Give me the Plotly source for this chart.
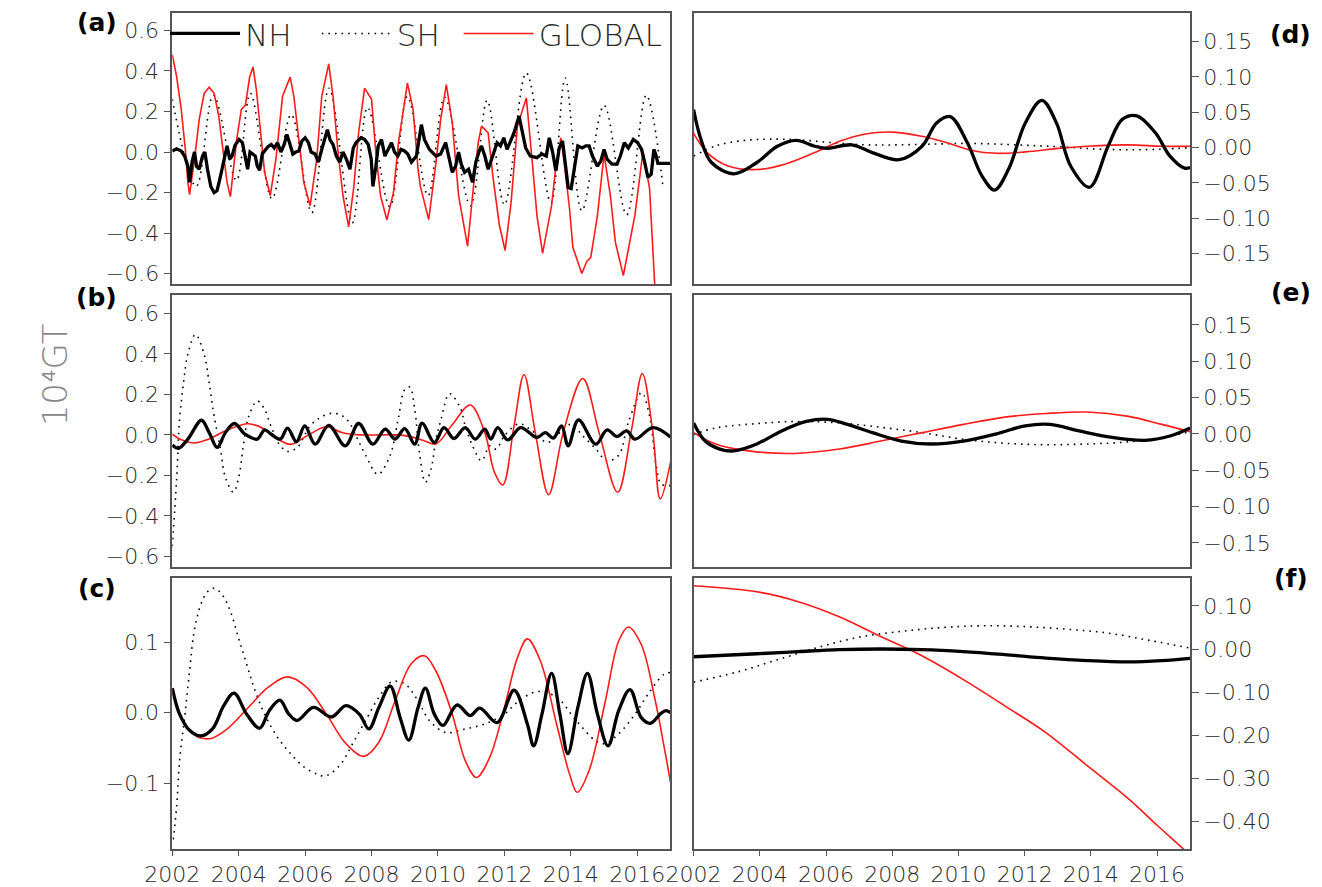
import plotly.graph_objects as go

W, H = 1322, 887

# ---------------- data (years, values in 10^4 GT) ----------------
# Panel (a)
A_NH_T = [2002.0, 2002.13, 2002.27, 2002.37, 2002.47, 2002.52, 2002.6, 2002.67, 2002.73, 2002.81, 2002.91, 2002.98,
          2003.06, 2003.16, 2003.26, 2003.35, 2003.45, 2003.55, 2003.65, 2003.73, 2003.8, 2003.89, 2004.01, 2004.11,
          2004.19, 2004.27, 2004.34, 2004.43, 2004.5, 2004.56, 2004.63, 2004.71, 2004.8, 2004.88, 2004.98, 2005.07,
          2005.17, 2005.27, 2005.37, 2005.45, 2005.53, 2005.63, 2005.72, 2005.81, 2005.9, 2006.0, 2006.1, 2006.18,
          2006.3, 2006.4, 2006.5, 2006.6, 2006.67, 2006.75, 2006.84, 2006.94, 2007.04, 2007.14, 2007.24, 2007.35,
          2007.45, 2007.53, 2007.68, 2007.79, 2007.9, 2007.99, 2008.04, 2008.13, 2008.2, 2008.3, 2008.4, 2008.5,
          2008.6, 2008.69, 2008.79, 2008.89, 2008.99, 2009.09, 2009.2, 2009.35, 2009.5, 2009.59, 2009.74, 2009.94,
          2010.08, 2010.23, 2010.33, 2010.43, 2010.53, 2010.62, 2010.7, 2010.8, 2010.92, 2011.04, 2011.14, 2011.23,
          2011.31, 2011.41, 2011.51, 2011.59, 2011.69, 2011.78, 2011.88, 2011.98, 2012.08, 2012.18, 2012.29, 2012.44,
          2012.54, 2012.64, 2012.78, 2012.98, 2013.13, 2013.26, 2013.35, 2013.45, 2013.55, 2013.65, 2013.75, 2013.85,
          2013.92, 2014.01, 2014.11, 2014.21, 2014.34, 2014.45, 2014.55, 2014.65, 2014.8, 2014.9, 2015.0, 2015.09,
          2015.24, 2015.39, 2015.49, 2015.61, 2015.73, 2015.88, 2016.01, 2016.13, 2016.22, 2016.32, 2016.42, 2016.5,
          2016.57, 2016.62, 2017.0]
A_NH_V = [0.005, 0.016, 0.005, -0.02, -0.07, -0.15, -0.045, 0.0, -0.07, -0.085, -0.02, 0.0,
          -0.085, -0.17, -0.20, -0.19, -0.12, -0.035, 0.03, -0.035, -0.02, 0.033, 0.062, 0.046,
          -0.02, -0.085, 0.0, -0.01, -0.02, -0.07, -0.09, -0.01, 0.013, 0.026, 0.037, 0.02,
          0.046, 0.0, 0.037, 0.087, 0.046, -0.01, 0.0, 0.005, 0.054, 0.07, 0.046, 0.0,
          -0.01, -0.05, 0.013, 0.08, 0.11, 0.06, 0.037, -0.02, -0.05, 0.0, -0.035, -0.085,
          0.02, 0.046, 0.07, 0.062, 0.037, -0.035, -0.17, -0.07, 0.03, 0.062, -0.02, 0.013,
          0.046, 0.0, -0.02, 0.013, 0.005, -0.01, -0.05, -0.02, 0.135, 0.062, 0.013, -0.02,
          -0.01, 0.046, -0.028, -0.10, -0.07, 0.0, -0.06, -0.10, -0.085, -0.15, -0.05, 0.0,
          0.03, -0.02, -0.085, -0.045, 0.0, 0.046, 0.03, 0.07, 0.013, 0.054, 0.095, 0.177,
          0.095, 0.02, -0.02, -0.028, -0.01, -0.02, 0.07, 0.0, -0.093, 0.02, 0.054, -0.07,
          -0.175, -0.18, -0.07, 0.03, 0.02, 0.03, 0.03, -0.02, -0.07, -0.045, 0.013, -0.035,
          -0.06, -0.06, -0.02, 0.046, 0.02, 0.062, 0.046, 0.013, -0.05, -0.125, -0.11, 0.013,
          -0.02, -0.056, -0.056]

A_SH_T = [2002.0, 2002.72, 2003.24, 2003.93, 2004.35, 2005.0, 2005.58, 2006.2, 2006.72, 2007.42, 2007.88,
          2008.55, 2009.08, 2009.7, 2010.2, 2010.98, 2011.48, 2012.0, 2012.66, 2013.4, 2013.83, 2014.33,
          2015.0, 2015.68, 2016.27, 2016.78]
A_SH_V = [0.26, -0.17, 0.28, -0.14, 0.29, -0.23, 0.185, -0.30, 0.315, -0.35, 0.22,
          -0.27, 0.275, -0.215, 0.27, -0.265, 0.255, -0.26, 0.39, -0.25, 0.365, -0.29,
          0.23, -0.31, 0.28, -0.18]

A_GL_T = [2002.0, 2002.13, 2002.27, 2002.4, 2002.47, 2002.52, 2002.67, 2002.81, 2002.96, 2003.11, 2003.26,
          2003.4, 2003.55, 2003.65, 2003.75, 2003.85, 2003.94, 2004.08, 2004.2, 2004.33, 2004.43, 2004.53,
          2004.68, 2004.78, 2004.95, 2005.12, 2005.32, 2005.55, 2005.66, 2005.81, 2005.96, 2006.15, 2006.35,
          2006.5, 2006.71, 2006.84, 2006.99, 2007.14, 2007.31, 2007.46, 2007.61, 2007.79, 2008.0, 2008.12,
          2008.27, 2008.46, 2008.66, 2008.81, 2009.08, 2009.25, 2009.4, 2009.47, 2009.72, 2009.94, 2010.08,
          2010.25, 2010.43, 2010.62, 2010.89, 2011.07, 2011.21, 2011.31, 2011.51, 2011.65, 2011.85, 2012.02,
          2012.2, 2012.39, 2012.66, 2012.83, 2012.98, 2013.15, 2013.42, 2013.55, 2013.7, 2013.8, 2013.96,
          2014.06, 2014.33, 2014.48, 2014.6, 2014.8, 2015.0, 2015.19, 2015.34, 2015.58, 2015.78, 2015.93,
          2016.17, 2016.37, 2016.52, 2016.6]
A_GL_V = [0.48, 0.373, 0.21, 0.0, -0.15, -0.21, -0.035, 0.16, 0.29, 0.32, 0.29,
          0.177, -0.02, -0.15, -0.22, -0.085, 0.062, 0.21, 0.23, 0.37, 0.42, 0.31,
          0.046, -0.10, -0.215, -0.035, 0.275, 0.37, 0.275, 0.046, -0.15, -0.265, -0.035,
          0.275, 0.435, 0.275, 0.0, -0.216, -0.37, -0.18, 0.095, 0.315, 0.26, 0.013,
          -0.216, -0.335, -0.20, 0.046, 0.34, 0.21, -0.085, -0.17, -0.334, -0.053, 0.16,
          0.333, 0.144, -0.216, -0.465, -0.167, 0.046, 0.128, 0.095, -0.118, -0.363, -0.486,
          -0.25, 0.128, 0.267, -0.035, -0.314, -0.50, -0.265, -0.07, 0.07, -0.05, -0.28,
          -0.47, -0.60, -0.54, -0.52, -0.314, -0.01, -0.216, -0.445, -0.61, -0.445, -0.31,
          0.0, -0.18, -0.64, -0.80]

# Panel (b)
B_NH_T = [2002.0, 2002.18, 2002.47, 2002.88, 2003.11, 2003.35, 2003.6, 2003.87, 2004.19, 2004.56, 2004.78,
          2004.98, 2005.25, 2005.47, 2005.74, 2005.99, 2006.3, 2006.71, 2007.21, 2007.61, 2008.04, 2008.41,
          2008.71, 2009.0, 2009.3, 2009.52, 2009.89, 2010.18, 2010.48, 2010.82, 2011.12, 2011.41, 2011.59,
          2011.8, 2012.1, 2012.49, 2012.98, 2013.23, 2013.47, 2013.72, 2013.92, 2014.23, 2014.75, 2015.09,
          2015.39, 2015.68, 2015.93, 2016.47, 2017.0]
B_NH_V = [-0.05, -0.067, -0.021, 0.072, 0.011, -0.062, 0.011, 0.056, 0.003, -0.021, 0.025,
          0.003, -0.021, 0.033, -0.034, 0.044, -0.046, 0.047, -0.054, 0.056, -0.046, 0.028,
          -0.021, 0.031, -0.046, 0.058, -0.038, 0.036, -0.018, 0.036, -0.021, 0.028, -0.021,
          0.036, -0.025, 0.036, -0.013, 0.011, -0.016, 0.044, -0.054, 0.074, -0.046, 0.025,
          -0.008, 0.02, -0.021, 0.036, -0.01]

B_SH_T = [2002.0, 2002.13, 2002.22, 2002.34, 2002.47, 2002.7, 2002.96, 2003.11, 2003.26, 2003.45, 2003.6,
          2003.84, 2003.99, 2004.14, 2004.29, 2004.56, 2004.78, 2004.97, 2005.22, 2005.47, 2005.76, 2006.15,
          2006.45, 2006.79, 2007.09, 2007.33, 2007.58, 2007.82, 2008.19, 2008.56, 2008.8, 2009.0, 2009.15,
          2009.3, 2009.44, 2009.62, 2009.79, 2009.94, 2010.08, 2010.35, 2010.67, 2010.82, 2011.02, 2011.31,
          2011.56, 2011.75, 2012.0, 2012.44, 2012.83, 2013.28, 2013.47, 2013.77, 2014.01, 2014.36, 2014.75,
          2015.09, 2015.44, 2015.73, 2016.13, 2016.37, 2016.57, 2016.72, 2017.0]
B_SH_V = [-0.55, -0.22, 0.077, 0.257, 0.40, 0.495, 0.396, 0.257, 0.093, -0.07, -0.21,
          -0.283, -0.218, -0.054, 0.085, 0.167, 0.126, 0.044, -0.046, -0.082, -0.062, 0.044,
          0.085, 0.106, 0.097, 0.06, -0.021, -0.10, -0.195, -0.10, 0.077, 0.224, 0.236,
          0.126, -0.087, -0.234, -0.169, -0.021, 0.069, 0.203, 0.134, 0.044, -0.046, -0.128,
          -0.054, -0.07, -0.005, 0.055, 0.02, -0.038, -0.021, 0.028, 0.052, -0.005, -0.07,
          -0.128, -0.10, 0.061, 0.208, 0.093, -0.152, -0.242, -0.25]

B_GL_T = [2002.0, 2002.22, 2002.67, 2003.11, 2003.6, 2004.29, 2004.78, 2005.17, 2005.56, 2006.05, 2006.64,
          2007.13, 2007.63, 2008.31, 2008.8, 2009.2, 2009.6, 2009.94, 2010.43, 2010.97, 2011.41, 2011.7,
          2011.95, 2012.29, 2012.59, 2012.93, 2013.33, 2013.77, 2014.36, 2014.85, 2015.41, 2015.83, 2016.15,
          2016.47, 2016.69, 2017.0]
B_GL_V = [0.003, -0.02, -0.04, -0.02, 0.02, 0.055, 0.028, -0.02, -0.047, -0.005, 0.04,
          0.01, 0.0, 0.0, 0.0, -0.01, -0.03, -0.045, 0.05, 0.147, 0.011, -0.185,
          -0.247, 0.044, 0.298, 0.01, -0.295, 0.011, 0.278, 0.011, -0.283, 0.028, 0.303,
          0.011, -0.316, -0.136]

# Panel (c)
C_NH_T = [2002.0, 2002.22, 2002.52, 2002.86, 2003.21, 2003.55, 2003.86, 2004.24, 2004.63, 2004.92, 2005.24,
          2005.51, 2005.76, 2006.25, 2006.79, 2007.23, 2007.63, 2007.92, 2008.22, 2008.56, 2008.86, 2009.12,
          2009.4, 2009.62, 2009.89, 2010.15, 2010.57, 2010.97, 2011.26, 2011.78, 2012.29, 2012.69, 2012.88,
          2013.13, 2013.42, 2013.67, 2013.91, 2014.21, 2014.5, 2014.8, 2015.12, 2015.44, 2015.78, 2016.12,
          2016.39, 2016.71, 2016.86, 2017.0]
C_NH_V = [0.035, -0.002, -0.025, -0.033, -0.023, 0.01, 0.028, -0.002, -0.022, 0.003, 0.018,
          -0.002, -0.011, 0.0075, -0.006, 0.01, -0.002, -0.023, 0.0075, 0.038, -0.007, -0.039,
          0.0075, 0.035, -0.002, -0.018, 0.011, -0.004, 0.0066, -0.014, 0.032, -0.016, -0.047,
          -0.002, 0.056, -0.002, -0.058, 0.0075, 0.056, -0.002, -0.047, 0.003, 0.033, -0.007,
          -0.015, -0.001, 0.003, 0.0]

C_SH_T = [2002.03, 2002.13, 2002.22, 2002.37, 2002.52, 2002.66, 2002.86, 2003.06, 2003.26, 2003.5, 2003.75,
          2003.99, 2004.24, 2004.48, 2004.78, 2005.17, 2005.56, 2005.96, 2006.35, 2006.6, 2007.04, 2007.43,
          2007.82, 2008.22, 2008.61, 2009.0, 2009.4, 2009.74, 2010.23, 2010.82, 2011.41, 2012.0, 2012.39,
          2012.98, 2013.57, 2014.16, 2014.75, 2015.0, 2015.44, 2015.93, 2016.32, 2016.81, 2017.0]
C_SH_V = [-0.18, -0.134, -0.068, -0.007, 0.059, 0.116, 0.154, 0.172, 0.177, 0.168, 0.144,
          0.107, 0.069, 0.033, -0.002, -0.035, -0.058, -0.077, -0.087, -0.09, -0.075, -0.044,
          -0.011, 0.022, 0.044, 0.041, 0.017, -0.011, -0.028, -0.023, -0.016, -0.002, 0.015,
          0.03, 0.022, -0.011, -0.04, -0.044, -0.03, -0.002, 0.026, 0.055, 0.057]

C_GL_T = [2002.0, 2002.22, 2002.62, 2003.11, 2003.6, 2004.29, 2004.88, 2005.47, 2006.05, 2006.64, 2007.23,
          2007.77, 2008.22, 2008.71, 2009.2, 2009.59, 2009.94, 2010.43, 2010.82, 2011.16, 2011.56, 2012.0,
          2012.39, 2012.69, 2013.08, 2013.57, 2013.96, 2014.19, 2014.55, 2015.04, 2015.44, 2015.73, 2016.12,
          2016.52, 2016.81, 2017.0]
C_GL_V = [0.035, -0.002, -0.03, -0.037, -0.025, 0.0075, 0.036, 0.051, 0.036, -0.002, -0.044,
          -0.062, -0.042, 0.017, 0.07, 0.081, 0.059, -0.002, -0.068, -0.092, -0.063, 0.0075,
          0.078, 0.105, 0.074, -0.016, -0.087, -0.113, -0.082, 0.017, 0.102, 0.122, 0.097,
          0.022, -0.049, -0.099]

# Panel (d)
D_NH_T = [2002.0, 2002.22, 2002.54, 2003.22, 2003.91, 2004.53, 2005.1, 2005.66, 2006.03, 2006.78, 2007.4,
          2008.21, 2008.9, 2009.34, 2009.75, 2010.27, 2010.71, 2011.09, 2011.52, 2012.02, 2012.52, 2012.96,
          2013.39, 2013.96, 2014.52, 2014.95, 2015.39, 2015.95, 2016.39, 2016.83, 2017.0]
D_NH_V = [0.054, 0.012, -0.021, -0.037, -0.021, 0.002, 0.0103, 0.002, -0.001, 0.004, -0.007,
          -0.017, 0.002, 0.035, 0.044, 0.007, -0.04, -0.06, -0.03, 0.035, 0.067, 0.035,
          -0.026, -0.056, 0.002, 0.04, 0.045, 0.021, -0.012, -0.029, -0.028]

D_SH_T = [2002.0, 2002.7, 2003.5, 2004.3, 2005.2, 2006.2, 2007.2, 2008.2, 2009.2, 2010.2, 2011.2,
          2012.2, 2013.2, 2014.2, 2015.2, 2016.2, 2017.0]
D_SH_V = [-0.012, 0.003, 0.010, 0.012, 0.011, 0.007, 0.004, 0.004, 0.005, 0.006, 0.005,
          0.003, 0.001, -0.002, -0.003, -0.002, 0.0]

D_GL_T = [2002.0, 2002.41, 2003.04, 2003.91, 2004.78, 2005.66, 2006.41, 2007.15, 2008.03, 2008.9, 2009.65,
          2010.4, 2011.15, 2012.02, 2013.02, 2013.89, 2015.14, 2016.14, 2017.0]
D_GL_V = [0.02, -0.007, -0.026, -0.031, -0.023, -0.007, 0.009, 0.019, 0.022, 0.016, 0.007,
          -0.004, -0.008, -0.006, -0.001, 0.002, 0.004, 0.002, 0.002]

# Panel (e)
E_NH_T = [2002.0, 2002.35, 2002.79, 2003.22, 2003.91, 2004.66, 2005.41, 2006.03, 2006.65, 2007.4, 2008.28,
          2009.15, 2010.15, 2011.15, 2012.02, 2012.77, 2013.64, 2014.64, 2015.64, 2016.39, 2017.0]
E_NH_V = [0.015, -0.01, -0.021, -0.0235, -0.014, 0.004, 0.017, 0.02, 0.013, 0.0016, -0.01,
          -0.014, -0.01, 0.0, 0.011, 0.013, 0.004, -0.005, -0.009, -0.003, 0.008]

E_SH_T = [2002.0, 2002.66, 2003.91, 2005.16, 2006.41, 2007.65, 2008.9, 2010.15, 2011.4, 2012.64, 2013.89,
          2015.14, 2016.39, 2017.0]
E_SH_V = [-0.001, 0.008, 0.014, 0.017, 0.015, 0.009, 0.0016, -0.0075, -0.013, -0.015, -0.014,
          -0.011, -0.003, 0.003]

E_GL_T = [2002.0, 2002.66, 2003.66, 2005.03, 2006.41, 2007.65, 2008.9, 2010.15, 2011.4, 2012.64, 2013.89,
          2015.14, 2016.14, 2017.0]
E_GL_V = [0.0016, -0.014, -0.0235, -0.027, -0.021, -0.01, 0.0016, 0.013, 0.023, 0.028, 0.03,
          0.024, 0.013, 0.003]

# Panel (f)
F_NH_T = [2002.0, 2003.91, 2005.16, 2006.4, 2007.65, 2008.9, 2010.15, 2011.4, 2012.64, 2013.89, 2015.14,
          2016.14, 2017.0]
F_NH_V = [-0.018, -0.011, -0.006, -0.0015, 0.0, -0.0015, -0.006, -0.013, -0.021, -0.027, -0.03,
          -0.027, -0.0215]

F_SH_T = [2002.0, 2003.29, 2004.53, 2005.78, 2007.03, 2008.28, 2009.52, 2010.77, 2012.02, 2013.27, 2014.52,
          2015.77, 2017.0]
F_SH_V = [-0.077, -0.054, -0.025, 0.004, 0.028, 0.041, 0.05, 0.054, 0.052, 0.046, 0.037,
          0.02, 0.002]

F_GL_T = [2002.0, 2003.91, 2005.16, 2006.4, 2007.65, 2008.78, 2010.15, 2011.4, 2012.64, 2013.89, 2015.14,
          2016.01, 2016.83, 2017.0]
F_GL_V = [0.147, 0.133, 0.11, 0.075, 0.029, -0.011, -0.071, -0.132, -0.194, -0.271, -0.348,
          -0.41, -0.467, -0.48]

X_TICKS = [2002, 2004, 2006, 2008, 2010, 2012, 2014, 2016]
X_TICK_TEXT = ["2002", "2004", "2006", "2008", "2010", "2012", "2014", "2016"]
AB_TICKS = [-0.6, -0.4, -0.2, 0.0, 0.2, 0.4, 0.6]
C_TICKS = [-0.1, 0.0, 0.1]
DE_TICKS = [-0.15, -0.10, -0.05, 0.0, 0.05, 0.10, 0.15]
F_TICKS = [-0.40, -0.30, -0.20, -0.10, 0.0, 0.10]

PANEL_LABELS = ["(a)", "(b)", "(c)", "(d)", "(e)", "(f)"]
SERIES_NAMES = ["NH", "SH", "GLOBAL"]

# ---------------- styling ----------------
BLACK = "#000000"
RED = "#ff1a1a"
FRAME = "#555555"
TXT = "#2a2a2a"
FONT = "DejaVu Sans"

def px_x(p):
    return p / W

def px_y(p):
    return 1 - p / H

LEFT_X = [px_x(147.4), px_x(656.4)]
RIGHT_X = [px_x(680.0), px_x(1187.3)]
ROW_Y = [[px_y(285.7), px_y(12.7)], [px_y(570.0), px_y(296.7)], [px_y(854.0), px_y(581.7)]]

fig = go.Figure()

panels = [
    ("x", "y", A_NH_T, A_NH_V, A_SH_T, A_SH_V, A_GL_T, A_GL_V, "linear", "spline"),
    ("x2", "y2", B_NH_T, B_NH_V, B_SH_T, B_SH_V, B_GL_T, B_GL_V, "spline", "spline"),
    ("x3", "y3", C_NH_T, C_NH_V, C_SH_T, C_SH_V, C_GL_T, C_GL_V, "spline", "spline"),
    ("x4", "y4", D_NH_T, D_NH_V, D_SH_T, D_SH_V, D_GL_T, D_GL_V, "spline", "spline"),
    ("x5", "y5", E_NH_T, E_NH_V, E_SH_T, E_SH_V, E_GL_T, E_GL_V, "spline", "spline"),
    ("x6", "y6", F_NH_T, F_NH_V, F_SH_T, F_SH_V, F_GL_T, F_GL_V, "spline", "spline"),
]

for i, (xa, ya, nt, nv, st, sv, gt, gv, shape, sshape) in enumerate(panels):
    first = i == 0
    fig.add_trace(go.Scatter(x=st, y=sv, xaxis=xa, yaxis=ya, mode="lines", name=SERIES_NAMES[1],
                             line=dict(color=BLACK, width=1.6, dash="1.6px,5px", shape=sshape),
                             showlegend=first, legend="legend2"))
    fig.add_trace(go.Scatter(x=gt, y=gv, xaxis=xa, yaxis=ya, mode="lines", name=SERIES_NAMES[2],
                             line=dict(color=RED, width=1.6, shape=shape),
                             showlegend=first, legend="legend3"))
    fig.add_trace(go.Scatter(x=nt, y=nv, xaxis=xa, yaxis=ya, mode="lines", name=SERIES_NAMES[0],
                             line=dict(color=BLACK, width=3.3, shape=shape),
                             showlegend=first, legend="legend"))

TICKFONT = dict(family=FONT, size=22, color=TXT, weight=200)

def xaxis(domain, anchor, labels):
    return dict(domain=domain, anchor=anchor, range=[2002, 2017], showline=True, mirror=True,
                linecolor=FRAME, linewidth=1.5, showgrid=False, zeroline=False,
                tickvals=X_TICKS if labels else [], ticktext=X_TICK_TEXT if labels else [],
                ticks="outside" if labels else "", ticklen=5, tickcolor=FRAME, tickwidth=1.2,
                showticklabels=labels, tickfont=TICKFONT)

def yaxis(domain, anchor, rng, ticks, fmt, side):
    return dict(domain=domain, anchor=anchor, range=rng, side=side, showline=True, mirror=True,
                linecolor=FRAME, linewidth=1.5, showgrid=False, zeroline=False,
                tickvals=ticks, tickformat=fmt, ticks="outside", ticklen=7, tickcolor=FRAME,
                tickwidth=1.2, tickfont=TICKFONT)

def legend_at(xpx):
    return dict(orientation="h", x=px_x(xpx), y=px_y(34), xanchor="left", yanchor="middle",
                font=dict(family=FONT, size=31, color=TXT, weight=200), itemwidth=70,
                bgcolor="rgba(0,0,0,0)", borderwidth=0)

layout = dict(
    width=W, height=H, margin=dict(l=0, r=0, t=0, b=0),
    paper_bgcolor="white", plot_bgcolor="white",
    xaxis=xaxis(LEFT_X, "y", False),
    xaxis2=xaxis(LEFT_X, "y2", False),
    xaxis3=xaxis(LEFT_X, "y3", True),
    xaxis4=xaxis(RIGHT_X, "y4", False),
    xaxis5=xaxis(RIGHT_X, "y5", False),
    xaxis6=xaxis(RIGHT_X, "y6", True),
    yaxis=yaxis(ROW_Y[0], "x", [-0.652, 0.688], AB_TICKS, ".1f", "left"),
    yaxis2=yaxis(ROW_Y[1], "x2", [-0.651, 0.69], AB_TICKS, ".1f", "left"),
    yaxis3=yaxis(ROW_Y[2], "x3", [-0.194, 0.191], C_TICKS, ".1f", "left"),
    yaxis4=yaxis(ROW_Y[0], "x4", [-0.193, 0.191], DE_TICKS, ".2f", "right"),
    yaxis5=yaxis(ROW_Y[1], "x5", [-0.183, 0.191], DE_TICKS, ".2f", "right"),
    yaxis6=yaxis(ROW_Y[2], "x6", [-0.465, 0.164], F_TICKS, ".2f", "right"),
    showlegend=True,
    legend=legend_at(140),
    legend2=legend_at(295),
    legend3=legend_at(440),
)
fig.update_layout(**layout)

label_pos = [(70, 23), (70, 299), (70, 592), (1290, 35), (1290, 294), (1290, 582)]
for lab, (lx, ly) in zip(PANEL_LABELS, label_pos):
    fig.add_annotation(text="<b>" + lab + "</b>", x=px_x(lx), y=px_y(ly), xref="paper", yref="paper",
                       showarrow=False, xanchor="center", yanchor="middle",
                       font=dict(family=FONT, size=25, color=BLACK))

fig.add_annotation(text="10⁴GT", x=px_x(27), y=px_y(377), xref="paper", yref="paper", showarrow=False,
                   textangle=-90, xanchor="center", yanchor="middle",
                   font=dict(family=FONT, size=34, color="#888888", weight=200))

fig.write_html("out.html")
